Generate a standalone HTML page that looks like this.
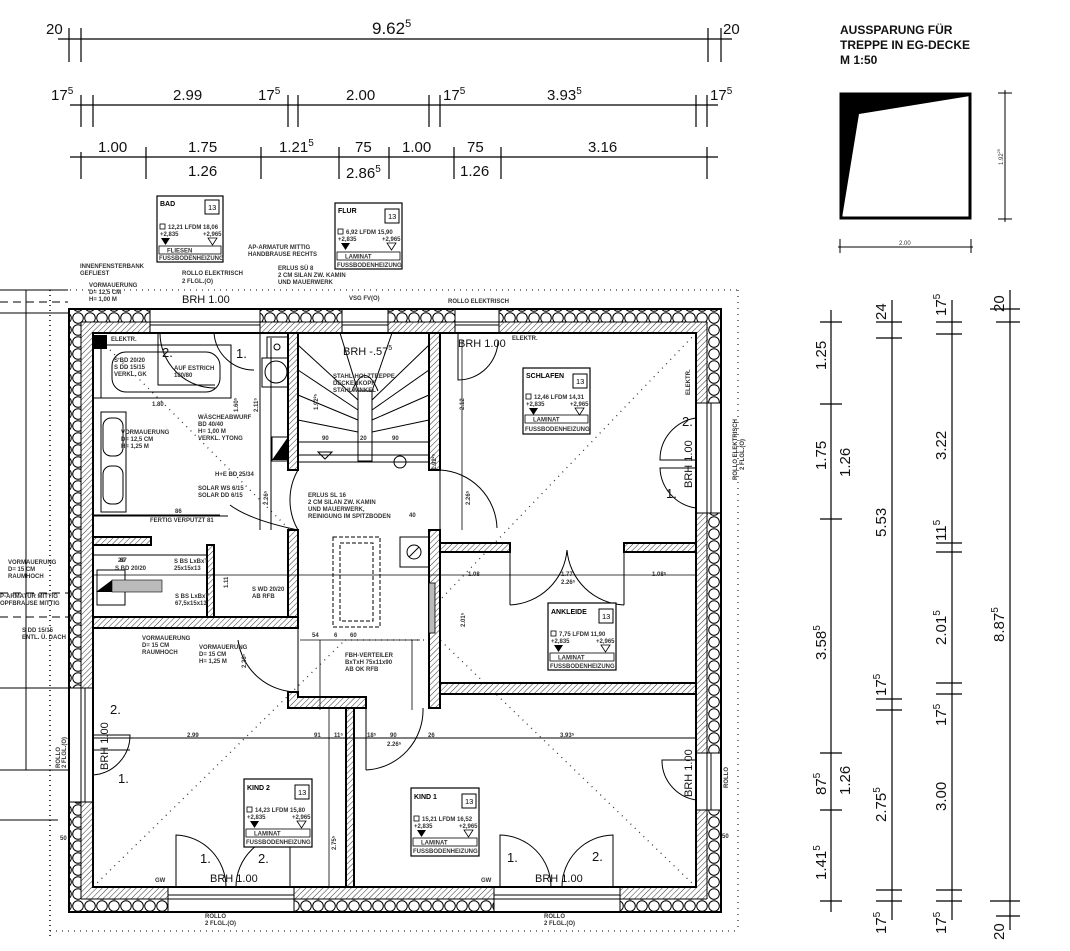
<!DOCTYPE html>
<html><head><meta charset="utf-8"><style>
html,body{margin:0;padding:0;background:#fff;}
svg{display:block;font-family:"Liberation Sans",sans-serif;}
.s{font-size:6px;font-weight:bold;fill:#333;}
.d{font-size:15px;fill:#111;}
.di{font-size:7px;fill:#222;}
</style></head><body>
<svg width="1070" height="951" viewBox="0 0 1070 951" xmlns="http://www.w3.org/2000/svg">
<defs>
<pattern id="ins" width="12" height="12" patternUnits="userSpaceOnUse"><rect width="12" height="12" fill="#fff"/><circle cx="6" cy="6" r="5.3" fill="none" stroke="#000" stroke-width="1"/></pattern>
<pattern id="h" width="4" height="4" patternUnits="userSpaceOnUse" patternTransform="rotate(45)"><rect width="4" height="4" fill="#fff"/><line x1="0" y1="0" x2="0" y2="4" stroke="#333" stroke-width="1"/></pattern>
<g id="tri"><polygon points="0,0 9,0 4.5,7" fill="#000"/></g>
<g id="otri"><polygon points="0,0 9,0 4.5,7" fill="none" stroke="#000" stroke-width="0.8"/></g>
</defs>

<!-- top dimension lines -->
<g stroke="#000" stroke-width="1.2" fill="none">
<line x1="58" y1="39" x2="732" y2="39"/>
<line x1="69" y1="28" x2="69" y2="62"/><line x1="81" y1="28" x2="81" y2="62"/><line x1="708" y1="28" x2="708" y2="62"/><line x1="721" y1="28" x2="721" y2="62"/>
<line x1="70" y1="105" x2="718" y2="105"/>
<line x1="81" y1="95" x2="81" y2="127"/><line x1="93" y1="95" x2="93" y2="127"/><line x1="288" y1="95" x2="288" y2="127"/><line x1="298" y1="95" x2="298" y2="127"/><line x1="429" y1="95" x2="429" y2="127"/><line x1="440" y1="95" x2="440" y2="127"/><line x1="696" y1="95" x2="696" y2="127"/><line x1="707" y1="95" x2="707" y2="127"/>
<line x1="70" y1="157" x2="718" y2="157"/>
<line x1="81" y1="152" x2="81" y2="179"/><line x1="146" y1="147" x2="146" y2="179"/><line x1="261" y1="147" x2="261" y2="179"/><line x1="339" y1="147" x2="339" y2="179"/><line x1="389" y1="147" x2="389" y2="179"/><line x1="454" y1="147" x2="454" y2="179"/><line x1="501" y1="147" x2="501" y2="179"/><line x1="707" y1="147" x2="707" y2="179"/>
</g>
<g class="d">
<text x="46" y="34">20</text><text x="372" y="34" font-size="17">9.62<tspan dy="-7" font-size="11">5</tspan></text><text x="723" y="34">20</text>
<text x="51" y="100">17<tspan dy="-6" font-size="10">5</tspan></text>
<text x="173" y="100">2.99</text>
<text x="258" y="100">17<tspan dy="-6" font-size="10">5</tspan></text>
<text x="346" y="100">2.00</text>
<text x="443" y="100">17<tspan dy="-6" font-size="10">5</tspan></text>
<text x="547" y="100">3.93<tspan dy="-6" font-size="10">5</tspan></text>
<text x="710" y="100">17<tspan dy="-6" font-size="10">5</tspan></text>
<text x="98" y="152">1.00</text><text x="188" y="152">1.75</text><text x="279" y="152">1.21<tspan dy="-6" font-size="10">5</tspan></text>
<text x="355" y="152">75</text><text x="402" y="152">1.00</text><text x="467" y="152">75</text><text x="588" y="152">3.16</text>
<text x="188" y="176">1.26</text><text x="346" y="178">2.86<tspan dy="-6" font-size="10">5</tspan></text><text x="460" y="176">1.26</text>
</g>

<!-- top right inset -->
<g font-weight="bold" font-size="12" fill="#111">
<text x="840" y="34">AUSSPARUNG FÜR</text><text x="840" y="49">TREPPE IN EG-DECKE</text><text x="840" y="64">M 1:50</text>
</g>
<rect x="841" y="94" width="129" height="124" fill="none" stroke="#000" stroke-width="3"/>
<polygon points="841,94 970,94 970,96 859,114 842,218 841,218" fill="#000"/>
<g stroke="#000" stroke-width="1"><line x1="838" y1="247" x2="973" y2="247"/><line x1="840" y1="239" x2="840" y2="253"/><line x1="971" y1="239" x2="971" y2="253"/>
<line x1="1005" y1="90" x2="1005" y2="222"/><line x1="998" y1="93" x2="1012" y2="93"/><line x1="998" y1="219" x2="1012" y2="219"/></g>
<text x="899" y="245" font-size="6" fill="#333">2.00</text>
<text transform="translate(1003,165) rotate(-90)" font-size="6" fill="#333">1.92<tspan dy="-3" font-size="4">25</tspan></text>

<!-- right dimension lines -->
<g stroke="#000" stroke-width="1.2">
<line x1="831" y1="310" x2="831" y2="912"/>
<line x1="820" y1="322" x2="842" y2="322"/><line x1="820" y1="404" x2="842" y2="404"/><line x1="820" y1="519" x2="842" y2="519"/><line x1="820" y1="753" x2="842" y2="753"/><line x1="820" y1="810" x2="842" y2="810"/><line x1="820" y1="901" x2="842" y2="901"/>
<line x1="892" y1="300" x2="892" y2="920"/>
<line x1="876" y1="322" x2="902" y2="322"/><line x1="876" y1="338" x2="902" y2="338"/><line x1="876" y1="699" x2="902" y2="699"/><line x1="876" y1="710" x2="902" y2="710"/><line x1="876" y1="890" x2="902" y2="890"/><line x1="876" y1="901" x2="902" y2="901"/>
<line x1="952" y1="300" x2="952" y2="920"/>
<line x1="936" y1="322" x2="962" y2="322"/><line x1="936" y1="334" x2="962" y2="334"/><line x1="936" y1="543" x2="962" y2="543"/><line x1="936" y1="552" x2="962" y2="552"/><line x1="936" y1="683" x2="962" y2="683"/><line x1="936" y1="694" x2="962" y2="694"/><line x1="936" y1="890" x2="962" y2="890"/><line x1="936" y1="901" x2="962" y2="901"/>
<line x1="1010" y1="290" x2="1010" y2="930"/>
<line x1="990" y1="309" x2="1020" y2="309"/><line x1="996" y1="322" x2="1020" y2="322"/><line x1="990" y1="901" x2="1020" y2="901"/><line x1="996" y1="916" x2="1020" y2="916"/>
</g>
<g class="d">
<text transform="translate(826,370) rotate(-90)">1.25</text>
<text transform="translate(826,470) rotate(-90)">1.75</text>
<text transform="translate(850,477) rotate(-90)">1.26</text>
<text transform="translate(826,660) rotate(-90)">3.58<tspan dy="-6" font-size="10">5</tspan></text>
<text transform="translate(826,795) rotate(-90)">87<tspan dy="-6" font-size="10">5</tspan></text>
<text transform="translate(850,795) rotate(-90)">1.26</text>
<text transform="translate(826,880) rotate(-90)">1.41<tspan dy="-6" font-size="10">5</tspan></text>
<text transform="translate(886,320) rotate(-90)">24</text>
<text transform="translate(886,537) rotate(-90)">5.53</text>
<text transform="translate(886,696) rotate(-90)">17<tspan dy="-6" font-size="10">5</tspan></text>
<text transform="translate(886,822) rotate(-90)">2.75<tspan dy="-6" font-size="10">5</tspan></text>
<text transform="translate(886,934) rotate(-90)">17<tspan dy="-6" font-size="10">5</tspan></text>
<text transform="translate(946,316) rotate(-90)">17<tspan dy="-6" font-size="10">5</tspan></text>
<text transform="translate(946,460) rotate(-90)">3.22</text>
<text transform="translate(946,541) rotate(-90)">11<tspan dy="-6" font-size="10">5</tspan></text>
<text transform="translate(946,645) rotate(-90)">2.01<tspan dy="-6" font-size="10">5</tspan></text>
<text transform="translate(946,726) rotate(-90)">17<tspan dy="-6" font-size="10">5</tspan></text>
<text transform="translate(946,811) rotate(-90)">3.00</text>
<text transform="translate(946,934) rotate(-90)">17<tspan dy="-6" font-size="10">5</tspan></text>
<text transform="translate(1004,312) rotate(-90)">20</text>
<text transform="translate(1004,642) rotate(-90)">8.87<tspan dy="-6" font-size="10">5</tspan></text>
<text transform="translate(1004,940) rotate(-90)">20</text>
</g>

<!-- left neighbouring building lines -->
<g stroke="#000" stroke-width="1" fill="none">
<line x1="0" y1="290" x2="68" y2="290"/>
<line x1="26" y1="290" x2="26" y2="770"/>
<line x1="0" y1="302" x2="68" y2="302" stroke-dasharray="8,5"/>
<line x1="0" y1="313" x2="68" y2="313"/>
<line x1="0" y1="593" x2="68" y2="593" stroke-dasharray="8,5"/>
<line x1="0" y1="617" x2="68" y2="617" stroke-dasharray="8,5"/>
<line x1="0" y1="688" x2="68" y2="688"/>
<line x1="0" y1="770" x2="68" y2="770"/>
<line x1="0" y1="820" x2="58" y2="820"/>
<line x1="50" y1="290" x2="50" y2="940" stroke-dasharray="1,4" stroke-width="1.5"/>
</g>
<!-- dotted roof outline -->
<g stroke="#333" stroke-width="1.3" stroke-dasharray="1,5" fill="none">
<line x1="58" y1="290" x2="738" y2="290"/>
<line x1="738" y1="290" x2="738" y2="931"/>
<line x1="50" y1="931" x2="738" y2="931"/>
<line x1="93" y1="333" x2="300" y2="540"/>
<line x1="696" y1="333" x2="440" y2="600"/>
<line x1="93" y1="887" x2="345" y2="640"/>
<line x1="696" y1="887" x2="440" y2="640"/>
<line x1="345" y1="640" x2="440" y2="640"/>
</g>

<!-- outer walls -->
<rect x="69" y="309" width="652" height="13" fill="url(#ins)"/>
<rect x="69" y="899" width="652" height="13" fill="url(#ins)"/>
<rect x="69" y="309" width="12" height="603" fill="url(#ins)"/>
<rect x="708" y="309" width="13" height="603" fill="url(#ins)"/>
<rect x="81" y="322" width="626" height="11" fill="url(#h)"/>
<rect x="81" y="887" width="626" height="12" fill="url(#h)"/>
<rect x="81" y="322" width="12" height="577" fill="url(#h)"/>
<rect x="696" y="322" width="12" height="577" fill="url(#h)"/>
<!-- window openings -->
<g fill="#fff">
<rect x="150" y="308" width="110" height="26"/><rect x="342" y="308" width="46" height="26"/><rect x="455" y="308" width="44" height="26"/>
<rect x="68" y="688" width="26" height="114"/><rect x="695" y="403" width="27" height="110"/><rect x="695" y="753" width="27" height="57"/>
<rect x="168" y="886" width="126" height="27"/><rect x="494" y="886" width="126" height="27"/>
</g>
<g stroke="#000" stroke-width="2" fill="none">
<rect x="69" y="309" width="652" height="603"/>
<rect x="93" y="333" width="603" height="554"/>
</g>
<g stroke="#000" stroke-width="1" fill="none">
<line x1="81" y1="322" x2="707" y2="322"/><line x1="81" y1="322" x2="81" y2="899"/><line x1="707" y1="322" x2="707" y2="899"/><line x1="81" y1="899" x2="707" y2="899"/>
<!-- window frames -->
<line x1="150" y1="322" x2="260" y2="322"/><line x1="150" y1="325" x2="260" y2="325"/><line x1="150" y1="309" x2="150" y2="333"/><line x1="260" y1="309" x2="260" y2="333"/>
<line x1="342" y1="322" x2="388" y2="322"/><line x1="342" y1="325" x2="388" y2="325"/><line x1="342" y1="309" x2="342" y2="333"/><line x1="388" y1="309" x2="388" y2="333"/>
<line x1="455" y1="322" x2="499" y2="322"/><line x1="455" y1="325" x2="499" y2="325"/><line x1="455" y1="309" x2="455" y2="333"/><line x1="499" y1="309" x2="499" y2="333"/>
<line x1="81" y1="688" x2="81" y2="802"/><line x1="85" y1="688" x2="85" y2="802"/><line x1="69" y1="688" x2="93" y2="688"/><line x1="69" y1="802" x2="93" y2="802"/>
<line x1="707" y1="403" x2="707" y2="513"/><line x1="711" y1="403" x2="711" y2="513"/><line x1="696" y1="403" x2="721" y2="403"/><line x1="696" y1="513" x2="721" y2="513"/>
<line x1="707" y1="753" x2="707" y2="810"/><line x1="711" y1="753" x2="711" y2="810"/><line x1="696" y1="753" x2="721" y2="753"/><line x1="696" y1="810" x2="721" y2="810"/>
<line x1="168" y1="899" x2="294" y2="899"/><line x1="168" y1="895" x2="294" y2="895"/><line x1="168" y1="887" x2="168" y2="912"/><line x1="294" y1="887" x2="294" y2="912"/>
<line x1="494" y1="899" x2="620" y2="899"/><line x1="494" y1="895" x2="620" y2="895"/><line x1="494" y1="887" x2="494" y2="912"/><line x1="620" y1="887" x2="620" y2="912"/>
</g>

<!-- interior walls -->
<g fill="url(#h)" stroke="#000" stroke-width="2">
<rect x="288" y="333" width="10" height="137"/>
<rect x="429" y="333" width="11" height="137"/>
<rect x="288" y="530" width="10" height="98"/>
<rect x="93" y="617" width="205" height="11"/>
<rect x="93" y="537" width="58" height="8"/>
<rect x="207" y="545" width="7" height="72"/>
<polygon points="288,692 298,692 298,697 366,697 366,708 288,708"/>
<rect x="346" y="708" width="8" height="179"/>
<rect x="429" y="530" width="11" height="178"/>
<rect x="440" y="543" width="70" height="9"/>
<rect x="624" y="543" width="72" height="9"/>
<rect x="440" y="683" width="256" height="11"/>
</g>
<rect x="429" y="583" width="6" height="50" fill="#bbb" stroke="#000" stroke-width="0.8"/>

<!-- bathroom details -->
<g stroke="#000" stroke-width="1" fill="none">
<line x1="260" y1="333" x2="260" y2="530"/>
<rect x="101" y="345" width="130" height="53"/>
<rect x="112" y="352" width="108" height="40" rx="14"/>
<line x1="93" y1="398" x2="231" y2="398"/>
<rect x="101" y="412" width="25" height="100"/>
<rect x="103" y="418" width="20" height="38" rx="8"/><rect x="103" y="466" width="20" height="38" rx="8"/>
<line x1="93" y1="515" x2="220" y2="515"/>
<rect x="267" y="337" width="21" height="21"/><circle cx="277" cy="347" r="3"/>
<rect x="262" y="358" width="26" height="29"/><circle cx="276" cy="372" r="11"/>
<rect x="272" y="437" width="16" height="24"/>
<line x1="93" y1="555" x2="207" y2="555"/>
<rect x="97" y="570" width="28" height="35"/>
<!-- stair -->
<rect x="358" y="391" width="14" height="70"/>
<line x1="298" y1="442" x2="429" y2="442"/>
<line x1="298" y1="455" x2="429" y2="455"/>
<line x1="298" y1="462" x2="429" y2="462"/>
<line x1="298" y1="345" x2="358" y2="400"/><line x1="298" y1="370" x2="358" y2="410"/><line x1="298" y1="395" x2="358" y2="420"/><line x1="298" y1="420" x2="358" y2="432"/>
<line x1="429" y1="345" x2="372" y2="400"/><line x1="429" y1="370" x2="372" y2="410"/><line x1="429" y1="395" x2="372" y2="420"/><line x1="429" y1="420" x2="372" y2="432"/>
<line x1="340" y1="333" x2="358" y2="391"/><line x1="392" y1="333" x2="372" y2="391"/>
<path d="M352,391 Q365,360 378,391"/>
<circle cx="400" cy="462" r="6"/>
<polygon points="318,452 332,452 325,459"/>
<!-- corridor -->
<rect x="333" y="537" width="47" height="90" stroke-dasharray="4,2"/>
<rect x="340" y="543" width="33" height="78" stroke-dasharray="4,2"/>
<rect x="400" y="537" width="29" height="30"/><circle cx="414" cy="552" r="7"/><line x1="409" y1="557" x2="419" y2="547"/>
<!-- doors -->
<path d="M298,470 A60,60 0 0 0 298,530"/><path d="M298,530 Q250,520 230,505" />
<path d="M440,470 L440,530"/><path d="M440,470 A60,60 0 0 1 497,528"/>
<path d="M298,628 L298,692"/><path d="M238,640 A60,60 0 0 0 298,692"/>
<path d="M366,708 L366,770"/><path d="M366,770 A60,60 0 0 0 423,708"/>
<path d="M510,552 L510,605"/><path d="M510,605 A60,60 0 0 0 567,550"/>
<path d="M624,552 L624,605"/><path d="M624,605 A60,60 0 0 1 567,550"/>
<path d="M93,735 L130,735 A40,40 0 0 1 93,775"/>
<path d="M93,750 L130,750"/>
<path d="M696,460 L660,460 A42,42 0 0 1 696,418"/>
<path d="M696,468 L660,468 A42,42 0 0 0 696,508"/>
<path d="M696,760 L662,760 A40,40 0 0 0 696,800"/>
<path d="M176,887 L176,835 A52,52 0 0 1 226,887"/>
<path d="M290,887 L290,835 A52,52 0 0 0 236,887"/>
<path d="M500,887 L500,835 A52,52 0 0 1 551,887"/>
<path d="M613,887 L613,835 A52,52 0 0 0 562,887"/>
<path d="M158,333 L158,385 L215,385"/><path d="M160,333 A55,55 0 0 0 215,388"/>
<path d="M214,333 A40,40 0 0 0 254,370"/>
<path d="M458,333 L458,380 A40,40 0 0 0 498,340"/>
<!-- interior dimension chain -->
<line x1="93" y1="738" x2="696" y2="738"/>
<line x1="271" y1="338" x2="271" y2="530"/>
<line x1="440" y1="335" x2="440" y2="470" stroke-width="0"/>
<line x1="93" y1="516" x2="228" y2="516"/>
<line x1="93" y1="575" x2="696" y2="575" stroke-width="0.8"/>
<line x1="440" y1="340" x2="440" y2="340"/>
<line x1="462" y1="340" x2="462" y2="530" stroke-width="0.8"/>
<line x1="300" y1="640" x2="420" y2="640" stroke-width="0.8"/>
<line x1="320" y1="640" x2="320" y2="710" stroke-width="0.8"/>
<line x1="412" y1="640" x2="412" y2="710" stroke-width="0.8"/>
<line x1="329" y1="708" x2="329" y2="887" stroke-width="0.8"/>
</g>
<rect x="93" y="335" width="14" height="14" fill="#000"/>
<polygon points="272,460 288,437 288,460" fill="#000"/>
<polygon points="96,592 112,580 112,592" fill="#000"/>
<rect x="112" y="580" width="50" height="12" fill="#bbb" stroke="#000" stroke-width="0.6"/>

<!-- room stamps -->
<g id="bad" transform="translate(157,196)">
<rect x="0" y="0" width="66" height="66" fill="#fff" stroke="#000" stroke-width="1.2"/>
<text x="3" y="10" font-size="7" font-weight="bold">BAD</text>
<rect x="48" y="4" width="14" height="14" fill="none" stroke="#000"/><text x="51" y="14" font-size="7.5">13</text>
<rect x="3" y="28" width="5" height="5" fill="none" stroke="#000" stroke-width="0.8"/><text x="11" y="33" class="s">12,21  LFDM 18,06</text>
<text x="3" y="40" class="s">+2,835</text><text x="46" y="40" class="s">+2,965</text>
<use href="#tri" x="4" y="42"/><use href="#otri" x="51" y="42"/>
<rect x="2" y="50" width="62" height="8" fill="none" stroke="#000" stroke-width="0.8"/><text x="10" y="56.5" class="s">FLIESEN</text>
<text x="2" y="64" class="s">FUSSBODENHEIZUNG</text>
</g>
<g transform="translate(335,203)">
<rect x="0" y="0" width="67" height="66" fill="#fff" stroke="#000" stroke-width="1.2"/>
<text x="3" y="10" font-size="7" font-weight="bold">FLUR</text>
<rect x="50" y="6" width="14" height="14" fill="none" stroke="#000"/><text x="53" y="16" font-size="7.5">13</text>
<rect x="3" y="26" width="5" height="5" fill="none" stroke="#000" stroke-width="0.8"/><text x="11" y="31" class="s">6,92  LFDM 15,90</text>
<text x="3" y="38" class="s">+2,835</text><text x="47" y="38" class="s">+2,965</text>
<use href="#tri" x="6" y="40"/><use href="#otri" x="52" y="40"/>
<rect x="2" y="49" width="63" height="8" fill="none" stroke="#000" stroke-width="0.8"/><text x="10" y="55.5" class="s">LAMINAT</text>
<text x="2" y="64" class="s">FUSSBODENHEIZUNG</text>
</g>
<g transform="translate(523,368)">
<rect x="0" y="0" width="67" height="66" fill="#fff" stroke="#000" stroke-width="1.2"/>
<text x="3" y="10" font-size="7" font-weight="bold">SCHLAFEN</text>
<rect x="50" y="6" width="14" height="14" fill="none" stroke="#000"/><text x="53" y="16" font-size="7.5">13</text>
<rect x="3" y="26" width="5" height="5" fill="none" stroke="#000" stroke-width="0.8"/><text x="11" y="31" class="s">12,46  LFDM 14,31</text>
<text x="3" y="38" class="s">+2,835</text><text x="47" y="38" class="s">+2,965</text>
<use href="#tri" x="6" y="40"/><use href="#otri" x="52" y="40"/>
<rect x="2" y="47" width="63" height="8" fill="none" stroke="#000" stroke-width="0.8"/><text x="10" y="53.5" class="s">LAMINAT</text>
<text x="2" y="63" class="s">FUSSBODENHEIZUNG</text>
</g>
<g transform="translate(548,603)">
<rect x="0" y="0" width="68" height="67" fill="#fff" stroke="#000" stroke-width="1.2"/>
<text x="3" y="11" font-size="7" font-weight="bold">ANKLEIDE</text>
<rect x="51" y="6" width="14" height="14" fill="none" stroke="#000"/><text x="54" y="16" font-size="7.5">13</text>
<rect x="3" y="28" width="5" height="5" fill="none" stroke="#000" stroke-width="0.8"/><text x="11" y="33" class="s">7,75  LFDM 11,90</text>
<text x="3" y="40" class="s">+2,835</text><text x="48" y="40" class="s">+2,965</text>
<use href="#tri" x="6" y="42"/><use href="#otri" x="53" y="42"/>
<rect x="2" y="50" width="64" height="8" fill="none" stroke="#000" stroke-width="0.8"/><text x="10" y="56.5" class="s">LAMINAT</text>
<text x="2" y="65" class="s">FUSSBODENHEIZUNG</text>
</g>
<g transform="translate(244,779)">
<rect x="0" y="0" width="68" height="68" fill="#fff" stroke="#000" stroke-width="1.2"/>
<text x="3" y="11" font-size="7" font-weight="bold">KIND 2</text>
<rect x="51" y="6" width="14" height="14" fill="none" stroke="#000"/><text x="54" y="16" font-size="7.5">13</text>
<rect x="3" y="28" width="5" height="5" fill="none" stroke="#000" stroke-width="0.8"/><text x="11" y="33" class="s">14,23  LFDM 15,80</text>
<text x="3" y="40" class="s">+2,835</text><text x="48" y="40" class="s">+2,965</text>
<use href="#tri" x="6" y="42"/><use href="#otri" x="53" y="42"/>
<rect x="2" y="50" width="64" height="8" fill="none" stroke="#000" stroke-width="0.8"/><text x="10" y="56.5" class="s">LAMINAT</text>
<text x="2" y="65" class="s">FUSSBODENHEIZUNG</text>
</g>
<g transform="translate(411,788)">
<rect x="0" y="0" width="68" height="68" fill="#fff" stroke="#000" stroke-width="1.2"/>
<text x="3" y="11" font-size="7" font-weight="bold">KIND 1</text>
<rect x="51" y="6" width="14" height="14" fill="none" stroke="#000"/><text x="54" y="16" font-size="7.5">13</text>
<rect x="3" y="28" width="5" height="5" fill="none" stroke="#000" stroke-width="0.8"/><text x="11" y="33" class="s">15,21  LFDM 16,52</text>
<text x="3" y="40" class="s">+2,835</text><text x="48" y="40" class="s">+2,965</text>
<use href="#tri" x="6" y="42"/><use href="#otri" x="53" y="42"/>
<rect x="2" y="50" width="64" height="8" fill="none" stroke="#000" stroke-width="0.8"/><text x="10" y="56.5" class="s">LAMINAT</text>
<text x="2" y="65" class="s">FUSSBODENHEIZUNG</text>
</g>

<!-- BRH & door numbers -->
<g font-size="11" fill="#111">
<text x="182" y="303">BRH 1.00</text>
<text x="343" y="355">BRH -.57<tspan dy="-5" font-size="7">5</tspan></text>
<text x="458" y="347">BRH 1.00</text>
<text transform="translate(692,488) rotate(-90)">BRH 1.00</text>
<text transform="translate(108,770) rotate(-90)">BRH 1.00</text>
<text transform="translate(692,797) rotate(-90)">BRH 1.00</text>
<text x="210" y="882">BRH 1.00</text>
<text x="535" y="882">BRH 1.00</text>
<text x="162" y="357" font-size="13">2.</text><text x="236" y="358" font-size="13">1.</text>
<text x="682" y="426" font-size="13">2.</text><text x="666" y="498" font-size="13">1.</text>
<text x="110" y="714" font-size="13">2.</text><text x="118" y="783" font-size="13">1.</text>
<text x="200" y="863" font-size="13">1.</text><text x="258" y="863" font-size="13">2.</text>
<text x="507" y="862" font-size="13">1.</text><text x="592" y="861" font-size="13">2.</text>
</g>

<!-- annotations -->
<g class="s">
<text x="80" y="268">INNENFENSTERBANK</text><text x="80" y="275">GEFLIEST</text>
<text x="89" y="287">VORMAUERUNG</text><text x="89" y="294">D= 12,5 CM</text><text x="89" y="301">H= 1,00 M</text>
<text x="182" y="275">ROLLO ELEKTRISCH</text><text x="182" y="283">2 FLGL.(O)</text>
<text x="248" y="249">AP-ARMATUR MITTIG</text><text x="248" y="256">HANDBRAUSE RECHTS</text>
<text x="278" y="270">ERLUS SÜ 8</text><text x="278" y="277">2 CM SILAN ZW. KAMIN</text><text x="278" y="284">UND MAUERWERK</text>
<text x="349" y="300">VSG FV(O)</text>
<text x="448" y="303">ROLLO ELEKTRISCH</text>
<text x="111" y="341">ELEKTR.</text><text x="512" y="340">ELEKTR.</text>
<text x="114" y="362">S BD 20/20</text><text x="114" y="369">S DD 15/15</text><text x="114" y="376">VERKL. GK</text>
<text x="174" y="370">AUF ESTRICH</text><text x="174" y="377">180/80</text>
<text x="152" y="406">1.80</text>
<text x="121" y="434">VORMAUERUNG</text><text x="121" y="441">D= 12,5 CM</text><text x="121" y="448">H= 1,25 M</text>
<text x="198" y="419">WÄSCHEABWURF</text><text x="198" y="426">BD 40/40</text><text x="198" y="433">H= 1,00 M</text><text x="198" y="440">VERKL. YTONG</text>
<text x="215" y="476">H+E BD 25/34</text>
<text x="198" y="490">SOLAR WS 6/15</text><text x="198" y="497">SOLAR DD 6/15</text>
<text x="175" y="513">86</text><text x="150" y="522">FERTIG VERPUTZT 81</text>
<text x="333" y="378">STAHL-HOLZTREPPE</text><text x="333" y="385">DECKENKOPF</text><text x="333" y="392">STAHLWINKEL</text>
<text x="322" y="440">90</text><text x="360" y="440">20</text><text x="392" y="440">90</text>
<text x="308" y="497">ERLUS SL 16</text><text x="308" y="504">2 CM SILAN ZW. KAMIN</text><text x="308" y="511">UND MAUERWERK,</text><text x="308" y="518">REINIGUNG IM SPITZBODEN</text>
<text x="409" y="517">40</text>
<text x="118" y="562">20</text><text x="120" y="562">67</text><text x="174" y="563">S BS LxBxT</text><text x="174" y="570">25x15x13</text>
<text x="115" y="570">S BD 20/20</text>
<text x="175" y="598">S BS LxBxT</text><text x="175" y="605">67,5x15x13</text>
<text x="252" y="591">S WD 20/20</text><text x="252" y="598">AB RFB</text>
<text x="8" y="564">VORMAUERUNG</text><text x="8" y="571">D= 15 CM</text><text x="8" y="578">RAUMHOCH</text>
<text x="0" y="598">P-ARMATUR MITTIG</text><text x="0" y="605">OPFBRAUSE MITTIG</text>
<text x="22" y="632">S DD 15/15</text><text x="22" y="639">ENTL. Ü. DACH</text>
<text x="142" y="640">VORMAUERUNG</text><text x="142" y="647">D= 15 CM</text><text x="142" y="654">RAUMHOCH</text>
<text x="199" y="649">VORMAUERUNG</text><text x="199" y="656">D= 15 CM</text><text x="199" y="663">H= 1,25 M</text>
<text x="345" y="657">FBH-VERTEILER</text><text x="345" y="664">BxTxH 75x11x90</text><text x="345" y="671">AB OK RFB</text>
<text x="312" y="637">54</text><text x="334" y="637">6</text><text x="350" y="637">60</text>
<text x="187" y="737">2.99</text><text x="314" y="737">91</text><text x="334" y="737">11⁵</text><text x="367" y="737">18⁵</text><text x="390" y="737">90</text><text x="428" y="737">26</text><text x="560" y="737">3.93⁵</text>
<text x="387" y="746">2.26⁵</text><text x="561" y="584">2.26⁵</text><text x="561" y="576">1.77</text><text x="468" y="576">1.08</text><text x="652" y="576">1.08⁵</text>
<text x="155" y="882">GW</text><text x="481" y="882">GW</text>
<text x="205" y="918">ROLLO</text><text x="205" y="925">2 FLGL.(O)</text>
<text x="544" y="918">ROLLO</text><text x="544" y="925">2 FLGL.(O)</text>
<text x="60" y="840">50</text><text x="722" y="838">50</text>
<text transform="translate(737,480) rotate(-90)">ROLLO ELEKTRISCH</text><text transform="translate(744,470) rotate(-90)">2 FLGL.(O)</text>
<text transform="translate(690,395) rotate(-90)">ELEKTR.</text>
<text transform="translate(60,768) rotate(-90)">ROLLO</text><text transform="translate(66,768) rotate(-90)">2 FLGL.(O)</text>
<text transform="translate(728,788) rotate(-90)">ROLLO</text>
<text transform="translate(464,410) rotate(-90)">2.12</text>
<text transform="translate(436,470) rotate(-90)">1.92²⁵</text>
<text transform="translate(318,410) rotate(-90)">1.92²⁵</text>
<text transform="translate(470,505) rotate(-90)">2.26⁵</text>
<text transform="translate(268,505) rotate(-90)">2.26⁵</text>
<text transform="translate(246,668) rotate(-90)">2.26⁵</text>
<text transform="translate(336,850) rotate(-90)">2.75⁵</text>
<text transform="translate(465,627) rotate(-90)">2.01⁵</text>
<text transform="translate(238,412) rotate(-90)">1.60⁵</text>
<text transform="translate(258,412) rotate(-90)">2.11⁵</text>
<text transform="translate(228,588) rotate(-90)">1.11</text>
</g>
</svg>
</body></html>
